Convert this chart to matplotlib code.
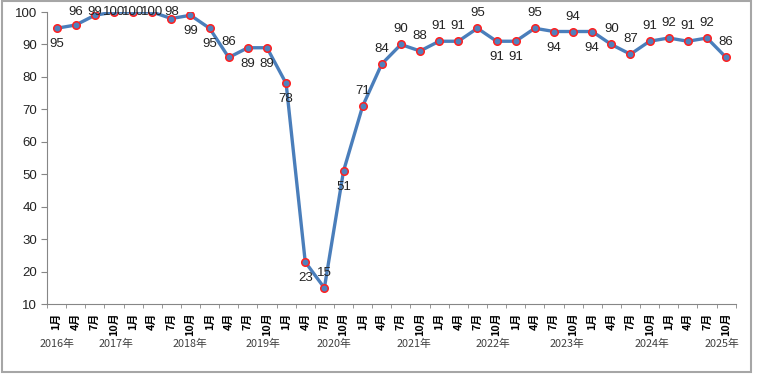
import matplotlib.pyplot as plt
from matplotlib.patches import Rectangle

plt.rcParams['font.family'] = ['Noto Sans CJK SC', 'DejaVu Sans']

months = ['1月', '4月', '7月', '10月'] * 9
values = [95, 96, 99, 100, 100, 100, 98, 99, 95, 86, 89, 89, 78, 23, 15, 51, 71, 84,
          90, 88, 91, 91, 95, 91, 91, 95, 94, 94, 94, 90, 87, 91, 92, 91, 92, 86]
years = ['2016年', '2017年', '2018年', '2019年', '2020年',
         '2021年', '2022年', '2023年', '2024年', '2025年']

# label placement: a = above, b = below
label_side = list('baaaaaabbabbbbabaaaaaaabbababaaaaaaa')
year_x = [0.05, 3.1, 7.0, 10.8, 14.5, 18.7, 22.8, 26.7, 31.1, 34.8]

W, H = 774, 376
fig = plt.figure(figsize=(W / 100, H / 100), dpi=100)
ax = fig.add_axes([0.0607, 0.191, 0.8898, 0.777])

x = range(len(values))
ax.plot(x, values, color='#4A7EBB', lw=2.4, marker='o', ms=5.4,
        mfc='#4F81BD', mec='#FF2020', mew=1.1, zorder=3)

ax.set_xlim(-0.5, len(values) - 0.5)
ax.set_ylim(10, 100)

num_font = ['Liberation Sans', 'DejaVu Sans']
for i, v in enumerate(values):
    py = ax.transData.transform((i, v))[1]
    if label_side[i] == 'a':
        target = min(py + 15, H - 12)
    else:
        target = py - 16
    ax.annotate(str(v), (i, v), xytext=(0, target - py), textcoords='offset pixels',
                ha='center', va='center', fontsize=9.5, color='#222222',
                family=num_font, annotation_clip=False)

ax.set_yticks(range(10, 101, 10))
ax.tick_params(axis='y', labelsize=9.5, length=4, color='#868686', pad=3,
               labelcolor='#222222')
for lab in ax.get_yticklabels():
    lab.set_family(num_font)

ax.set_xticks(range(len(values)))
ax.set_xticklabels(months, rotation=90, fontsize=7.8, fontweight='bold')
ax.tick_params(axis='x', length=0, pad=6)
ax.set_xticks([i - 0.5 for i in range(len(values) + 1)], minor=True)
ax.tick_params(axis='x', which='minor', length=3, color='#868686')

for s in ['top', 'right']:
    ax.spines[s].set_visible(False)
for s in ['left', 'bottom']:
    ax.spines[s].set_color('#868686')

for xi, yl in zip(year_x, years):
    ax.text(xi, -0.135, yl, transform=ax.get_xaxis_transform(), ha='center',
            va='center', fontsize=7.8, color='#404040')

fig.patches.append(Rectangle((0.002, 0.01), 0.968, 0.987, transform=fig.transFigure,
                             fill=False, ec='#A6A6A6', lw=1.5))

fig.savefig('out.png', dpi=100)
